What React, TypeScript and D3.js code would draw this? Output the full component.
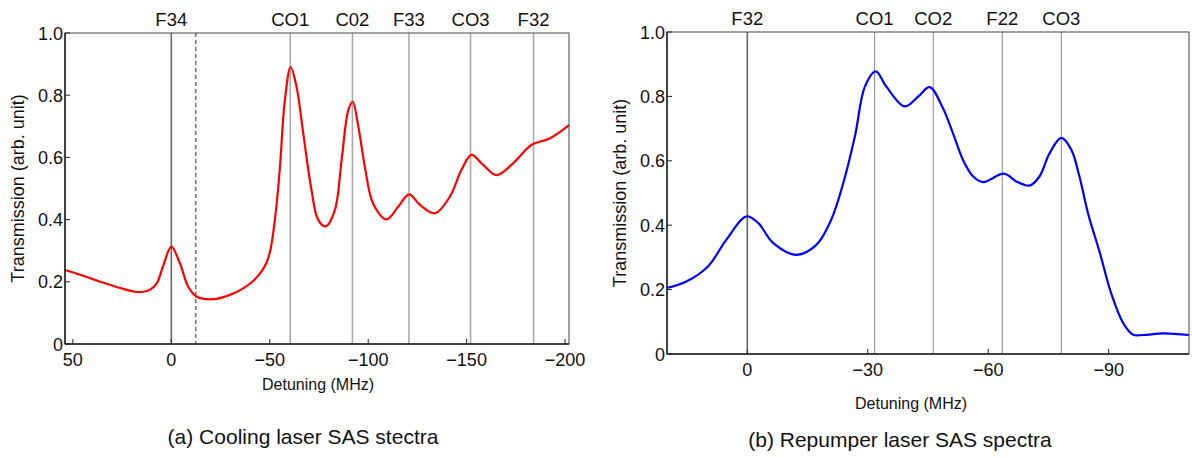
import React, { useEffect, useRef } from "react";
import * as d3 from "d3";

// Cooling laser SAS spectrum (detuning MHz, transmission)
const coolingDetuning = [54, 46, 36, 26, 18.4, 14.2, 10.8, 7.4, 4.1, 0, -4.4, -8.6, -12.9, -21.3, -29.8, -36.5, -42, -46, -48.4, -50.4, -51.8, -53.5, -55.2, -57.7, -60.6, -63.6, -67, -71.2, -74.6, -78.5, -83.1, -86.5, -89.9, -92.1, -95, -98.3, -102.5, -109.3, -115.2, -120.8, -126.3, -133.9, -141.5, -147.4, -152.5, -158.4, -165.2, -173.6, -182.9, -192.2, -202];
const coolingTransmission = [0.238, 0.222, 0.2, 0.18, 0.168, 0.168, 0.175, 0.195, 0.252, 0.313, 0.259, 0.184, 0.152, 0.144, 0.158, 0.179, 0.205, 0.235, 0.262, 0.305, 0.36, 0.45, 0.57, 0.785, 0.89, 0.827, 0.678, 0.495, 0.399, 0.378, 0.431, 0.592, 0.752, 0.779, 0.699, 0.57, 0.452, 0.401, 0.441, 0.481, 0.447, 0.42, 0.474, 0.56, 0.608, 0.576, 0.543, 0.581, 0.64, 0.661, 0.704];

// Repumper laser SAS spectrum
const repumperDetuning = [20, 15.2, 9.8, 5.2, 0.25, -2.7, -6.4, -12.2, -17.2, -20.9, -23.9, -26.8, -29.3, -32, -34.6, -39.2, -42.6, -45.4, -48.7, -51.2, -53.7, -56.2, -58.7, -63.9, -67, -70.3, -72.8, -75.3, -78.2, -80.7, -82.7, -84.9, -87.8, -90.6, -93.6, -96.1, -98.6, -103.6, -110];
const repumperTransmission = [0.205, 0.225, 0.272, 0.355, 0.427, 0.407, 0.345, 0.308, 0.339, 0.417, 0.531, 0.676, 0.831, 0.878, 0.831, 0.769, 0.8, 0.829, 0.764, 0.686, 0.603, 0.552, 0.534, 0.56, 0.536, 0.523, 0.552, 0.624, 0.671, 0.634, 0.552, 0.435, 0.314, 0.189, 0.096, 0.06, 0.059, 0.064, 0.059];

// Transition markers
const coolingLineLabels = ["F34", "CO1", "C02", "F33", "CO3", "F32"];
const coolingLinePositions = [0, -60.4, -92, -120.7, -152, -184];
const coolingDashed = [-12.4];
const repumperLineLabels = ["F32", "CO1", "CO2", "F22", "CO3"];
const repumperLinePositions = [0, -31.7, -46.3, -63.5, -78.2];

// Ticks
const coolingXTicks = [50, 0, -50, -100, -150, -200];
const repumperXTicks = [0, -30, -60, -90];
const yTicks = [0, 0.2, 0.4, 0.6, 0.8, 1.0];

const FONT = "'Liberation Sans', Arial, sans-serif";

const fmtX = (d) => (d < 0 ? "\u2212" + Math.abs(d) : String(d));
const fmtY = (d) => (d === 0 ? "0" : d.toFixed(1));

const drawPanel = (svg, cfg) => {
  const x = d3.scaleLinear().domain(cfg.xDomain).range([cfg.left, cfg.right]);
  const y = d3.scaleLinear().domain([0, 1]).range([cfg.bottom, cfg.top]);
  const g = svg.append("g").style("font-family", FONT);

  // transition lines
  cfg.linePositions.forEach((p, i) => {
    g.append("line")
      .attr("x1", x(p)).attr("x2", x(p))
      .attr("y1", cfg.top).attr("y2", cfg.bottom)
      .attr("stroke", i === 0 ? "#666" : cfg.lineColor)
      .attr("stroke-width", i === 0 ? 1.6 : cfg.lineWidth);
    g.append("text")
      .attr("x", x(p)).attr("y", cfg.top - 7)
      .attr("text-anchor", "middle")
      .attr("font-size", 18.5)
      .attr("fill", "#111")
      .text(cfg.lineLabels[i]);
  });
  (cfg.dashed || []).forEach((p) => {
    g.append("line")
      .attr("x1", x(p)).attr("x2", x(p))
      .attr("y1", cfg.top).attr("y2", cfg.bottom)
      .attr("stroke", "#777")
      .attr("stroke-width", 1.6)
      .attr("stroke-dasharray", "4,3");
  });

  // curve
  const line = d3.line()
    .x((d) => x(d[0]))
    .y((d) => y(d[1]))
    .curve(d3.curveCatmullRom.alpha(0.5));
  g.append("path")
    .datum(cfg.xs.map((v, i) => [v, cfg.ys[i]]))
    .attr("fill", "none")
    .attr("stroke", cfg.color)
    .attr("stroke-width", 2.2)
    .attr("d", line);

  // frame
  g.append("rect")
    .attr("x", cfg.left).attr("y", cfg.top)
    .attr("width", cfg.right - cfg.left).attr("height", cfg.bottom - cfg.top)
    .attr("fill", "none").attr("stroke", "#444").attr("stroke-width", 1);
  g.append("line")
    .attr("x1", cfg.left).attr("x2", cfg.left).attr("y1", cfg.top).attr("y2", cfg.bottom)
    .attr("stroke", "#222").attr("stroke-width", 1.5);
  g.append("line")
    .attr("x1", cfg.left).attr("x2", cfg.right).attr("y1", cfg.bottom).attr("y2", cfg.bottom)
    .attr("stroke", "#222").attr("stroke-width", 1.5);

  // x ticks
  cfg.xTicks.forEach((t) => {
    g.append("line")
      .attr("x1", x(t)).attr("x2", x(t))
      .attr("y1", cfg.bottom).attr("y2", cfg.bottom - 5)
      .attr("stroke", "#222");
    g.append("text")
      .attr("x", x(t)).attr("y", cfg.bottom + cfg.xLabelOffset)
      .attr("text-anchor", "middle")
      .attr("font-size", 18)
      .attr("fill", "#111")
      .text(fmtX(t));
  });
  // y ticks
  yTicks.forEach((t) => {
    g.append("line")
      .attr("x1", cfg.left).attr("x2", cfg.left + 5)
      .attr("y1", y(t)).attr("y2", y(t))
      .attr("stroke", "#222");
    g.append("text")
      .attr("x", cfg.left - 2).attr("y", y(t) + 6.5)
      .attr("text-anchor", "end")
      .attr("font-size", 18)
      .attr("fill", "#111")
      .text(fmtY(t));
  });

  // axis titles
  g.append("text")
    .attr("transform", `translate(${cfg.yTitleX}, ${(cfg.top + cfg.bottom) / 2}) rotate(-90)`)
    .attr("text-anchor", "middle")
    .attr("font-size", 18)
    .attr("fill", "#111")
    .text("Transmission (arb. unit)");
  g.append("text")
    .attr("x", cfg.xTitleX).attr("y", cfg.xTitleY)
    .attr("text-anchor", "middle")
    .attr("font-size", 16)
    .attr("fill", "#111")
    .text("Detuning (MHz)");
  g.append("text")
    .attr("x", cfg.captionX).attr("y", cfg.captionY)
    .attr("text-anchor", "middle")
    .attr("font-size", 21)
    .attr("fill", "#111")
    .text(cfg.caption);
};

const App = () => {
  const ref = useRef(null);

  useEffect(() => {
    const svg = d3.select(ref.current);
    svg.selectAll("*").remove();

    drawPanel(svg, {
      xDomain: [54, -202], left: 65, right: 569, top: 33, bottom: 344,
      xs: coolingDetuning, ys: coolingTransmission, color: "#ff0000",
      linePositions: coolingLinePositions, lineLabels: coolingLineLabels,
      dashed: coolingDashed, lineColor: "#aaa", lineWidth: 1.6,
      xTicks: coolingXTicks, xLabelOffset: 22,
      yTitleX: 24, xTitleX: 318, xTitleY: 390,
      caption: "(a) Cooling laser SAS stectra", captionX: 303, captionY: 444,
    });
    drawPanel(svg, {
      xDomain: [20, -110], left: 667, right: 1189, top: 32, bottom: 354,
      xs: repumperDetuning, ys: repumperTransmission, color: "#0000ff",
      linePositions: repumperLinePositions, lineLabels: repumperLineLabels,
      dashed: [], lineColor: "#888", lineWidth: 1,
      xTicks: repumperXTicks, xLabelOffset: 22,
      yTitleX: 626, xTitleX: 911, xTitleY: 409,
      caption: "(b) Repumper laser SAS spectra", captionX: 900, captionY: 447,
    });
  }, []);

  return (
    <svg
      ref={ref}
      width={1192}
      height={457}
      style={{ position: "absolute", left: 0, top: 0, background: "#fff" }}
    />
  );
};

export default App;
